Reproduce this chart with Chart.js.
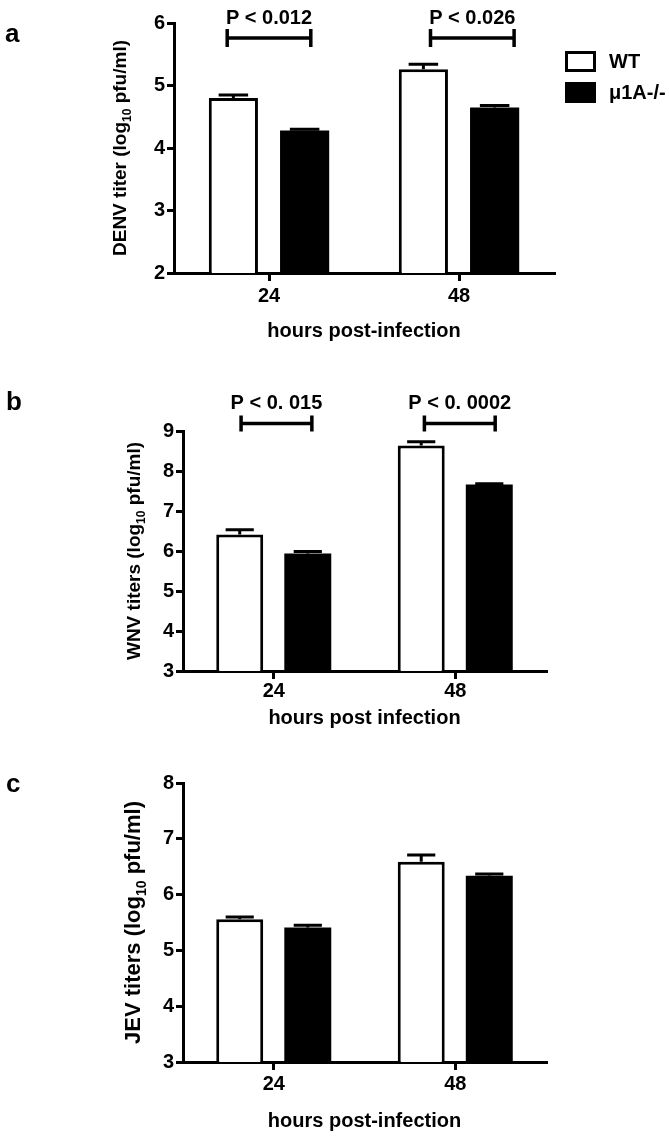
<!DOCTYPE html>
<html>
<head>
<meta charset="utf-8">
<script src="https://cdn.jsdelivr.net/npm/chart.js@4.4.1/dist/chart.umd.min.js"></script>
<style>
  html, body { margin: 0; padding: 0; background: #fff; }
  #wrap { position: relative; width: 669px; height: 1137px; }
  .panel { position: absolute; left: 0; width: 669px; }
</style>
</head>
<body>
<div id="wrap">
  <div class="panel" style="top:0;height:360px"><canvas id="chartA"></canvas></div>
  <div class="panel" style="top:360px;height:380px"><canvas id="chartB"></canvas></div>
  <div class="panel" style="top:740px;height:397px"><canvas id="chartC"></canvas></div>
</div>
<script>
// categories and series names
const hours = ['24', '48'];
const seriesNames = ['WT', 'μ1A-/-'];

// a - DENV
const denvWt = [4.80, 5.26];
const denvWtErr = [0.05, 0.08];
const denvKo = [4.28, 4.65];
const denvKoErr = [0.02, 0.03];
const denvP = ['P < 0.012', 'P < 0.026'];
const denvBracket = [5.76, 5.76];

// b - WNV
const wnvWt = [6.41, 8.64];
const wnvWtErr = [0.12, 0.09];
const wnvKo = [5.94, 7.66];
const wnvKoErr = [0.05, 0.02];
const wnvP = ['P < 0. 015', 'P < 0. 0002'];
const wnvBracket = [9.19, 9.19];

// c - JEV
const jevWt = [5.56, 6.59];
const jevWtErr = [0.04, 0.12];
const jevKo = [5.41, 6.34];
const jevKoErr = [0.04, 0.03];

const FONT = "'Liberation Sans', Arial, sans-serif";
Chart.defaults.font.family = FONT;
Chart.defaults.color = '#000';

// error bars, p-value brackets, titles, legend
const panelPlugin = {
  id: 'panel',
  afterDatasetsDraw(chart, args, o) {
    const ctx = chart.ctx, area = chart.chartArea;
    const xs = chart.scales.x, ys = chart.scales.y;
    ctx.save();
    ctx.strokeStyle = '#000';
    ctx.fillStyle = '#000';

    // error bars (upper SEM only)
    ctx.lineWidth = 3;
    chart.data.datasets.forEach((ds, i) => {
      chart.getDatasetMeta(i).data.forEach((bar, j) => {
        const yTop = ys.getPixelForValue(ds.data[j] + ds.err[j]);
        const yBar = ys.getPixelForValue(ds.data[j]);
        const h = bar.width * 0.3;
        ctx.beginPath();
        ctx.moveTo(bar.x, yTop); ctx.lineTo(bar.x, yBar);
        ctx.moveTo(bar.x - h, yTop); ctx.lineTo(bar.x + h, yTop);
        ctx.stroke();
      });
    });

    // significance brackets
    if (o.pLabels) {
      const step = xs.getPixelForValue(1) - xs.getPixelForValue(0);
      o.pLabels.forEach((txt, i) => {
        const xc = xs.getPixelForValue(i);
        const x1 = xc + o.span[i][0] * step, x2 = xc + o.span[i][1] * step;
        const y = ys.getPixelForValue(o.bracketY[i]);
        ctx.lineWidth = 3.5;
        ctx.beginPath();
        ctx.moveTo(x1, y); ctx.lineTo(x2, y);
        ctx.moveTo(x1, y - o.cap); ctx.lineTo(x1, y + o.cap);
        ctx.moveTo(x2, y - o.cap); ctx.lineTo(x2, y + o.cap);
        ctx.stroke();
        ctx.font = 'bold 20px ' + FONT;
        ctx.textAlign = 'center';
        ctx.textBaseline = 'alphabetic';
        ctx.fillText(txt, (x1 + x2) / 2, y - 14);
      });
    }

    // y title with subscript
    const fs = o.yTitleSize;
    const parts = o.yTitle;
    const sizes = [fs, Math.round(fs * 0.65), fs];
    let total = 0;
    parts.forEach((t, k) => { ctx.font = 'bold ' + sizes[k] + 'px ' + FONT; total += ctx.measureText(t).width; });
    ctx.save();
    ctx.translate(area.left - o.yTitleGap, (area.top + area.bottom) / 2);
    ctx.rotate(-Math.PI / 2);
    ctx.textAlign = 'left';
    ctx.textBaseline = 'alphabetic';
    let cx = -total / 2;
    parts.forEach((t, k) => {
      ctx.font = 'bold ' + sizes[k] + 'px ' + FONT;
      ctx.fillText(t, cx, k === 1 ? fs * 0.25 : 0);
      cx += ctx.measureText(t).width;
    });
    ctx.restore();

    // x title
    ctx.font = 'bold 20px ' + FONT;
    ctx.textAlign = 'center';
    ctx.textBaseline = 'alphabetic';
    ctx.fillText(o.xTitle, (area.left + area.right) / 2, area.bottom + o.xTitleGap);

    // panel letter
    ctx.font = 'bold 26px ' + FONT;
    ctx.textAlign = 'left';
    ctx.fillText(o.letter, o.letterPos[0], o.letterPos[1]);

    // legend
    if (o.legend) {
      const lx = area.right + 11;
      chart.data.datasets.forEach((ds, i) => {
        const ly = 51 + i * 31;
        ctx.lineWidth = 3;
        ctx.fillStyle = ds.backgroundColor;
        ctx.fillRect(lx, ly, 31, 21);
        ctx.strokeStyle = '#000';
        ctx.strokeRect(lx + 1.5, ly + 1.5, 28, 18);
        ctx.fillStyle = '#000';
        ctx.font = 'bold 20px ' + FONT;
        ctx.textBaseline = 'middle';
        ctx.fillText(ds.label, lx + 44, ly + 11);
      });
    }
    ctx.restore();
  }
};

function makeChart(id, p) {
  return new Chart(document.getElementById(id), {
    type: 'bar',
    data: {
      labels: hours,
      datasets: [
        { label: seriesNames[0], data: p.wt, err: p.wtErr, backgroundColor: '#fff', borderColor: '#000', borderWidth: 3,
          categoryPercentage: 0.75, barPercentage: 0.69 },
        { label: seriesNames[1], data: p.ko, err: p.koErr, backgroundColor: '#000', borderColor: '#000', borderWidth: 0,
          categoryPercentage: 0.75, barPercentage: 0.69 }
      ]
    },
    options: {
      responsive: true,
      maintainAspectRatio: false,
      animation: false,
      events: [],
      layout: { padding: { left: 0, right: p.right, top: p.top, bottom: 0 } },
      plugins: {
        legend: { display: false },
        tooltip: { enabled: false },
        panel: p.panel
      },
      scales: {
        x: {
          grid: { offset: false, drawOnChartArea: false, tickLength: 8, lineWidth: 3, color: '#000' },
          border: { color: '#000', width: 3 },
          ticks: { font: { size: 20, weight: 'bold' }, color: '#000', padding: p.xPad },
          afterFit: s => { s.height = p.xH; }
        },
        y: {
          min: p.min,
          max: p.max,
          grid: { drawOnChartArea: false, tickLength: 7, lineWidth: 3, color: '#000' },
          border: { color: '#000', width: 3 },
          ticks: { stepSize: 1, font: { size: 20, weight: 'bold' }, color: '#000', padding: 2 },
          afterFit: s => { s.width = p.left; }
        }
      }
    },
    plugins: [panelPlugin]
  });
}

makeChart('chartA', {
  wt: denvWt, wtErr: denvWtErr, ko: denvKo, koErr: denvKoErr,
  min: 2, max: 6, left: 174, right: 115, top: 23, xH: 87, xPad: 3,
  panel: {
    pLabels: denvP, bracketY: denvBracket, span: [[-0.22, 0.22], [-0.15, 0.29]], cap: 9,
    yTitle: ['DENV titer (log', '10', ' pfu/ml)'], yTitleSize: 19, yTitleGap: 48,
    xTitle: 'hours post-infection', xTitleGap: 64,
    letter: 'a', letterPos: [5, 42], legend: true
  }
});

makeChart('chartB', {
  wt: wnvWt, wtErr: wnvWtErr, ko: wnvKo, koErr: wnvKoErr,
  min: 3, max: 9, left: 183, right: 123, top: 71, xH: 69, xPad: 0,
  panel: {
    pLabels: wnvP, bracketY: wnvBracket, span: [[-0.18, 0.21], [-0.17, 0.22]], cap: 8,
    yTitle: ['WNV titers (log', '10', ' pfu/ml)'], yTitleSize: 19, yTitleGap: 43,
    xTitle: 'hours post infection', xTitleGap: 53,
    letter: 'b', letterPos: [6, 50], legend: false
  }
});

makeChart('chartC', {
  wt: jevWt, wtErr: jevWtErr, ko: jevKo, koErr: jevKoErr,
  min: 3, max: 8, left: 183, right: 123, top: 43, xH: 75, xPad: 2,
  panel: {
    yTitle: ['JEV titers (log', '10', ' pfu/ml)'], yTitleSize: 22, yTitleGap: 43,
    xTitle: 'hours post-infection', xTitleGap: 65,
    letter: 'c', letterPos: [6, 52], legend: false
  }
});
</script>
</body>
</html>
